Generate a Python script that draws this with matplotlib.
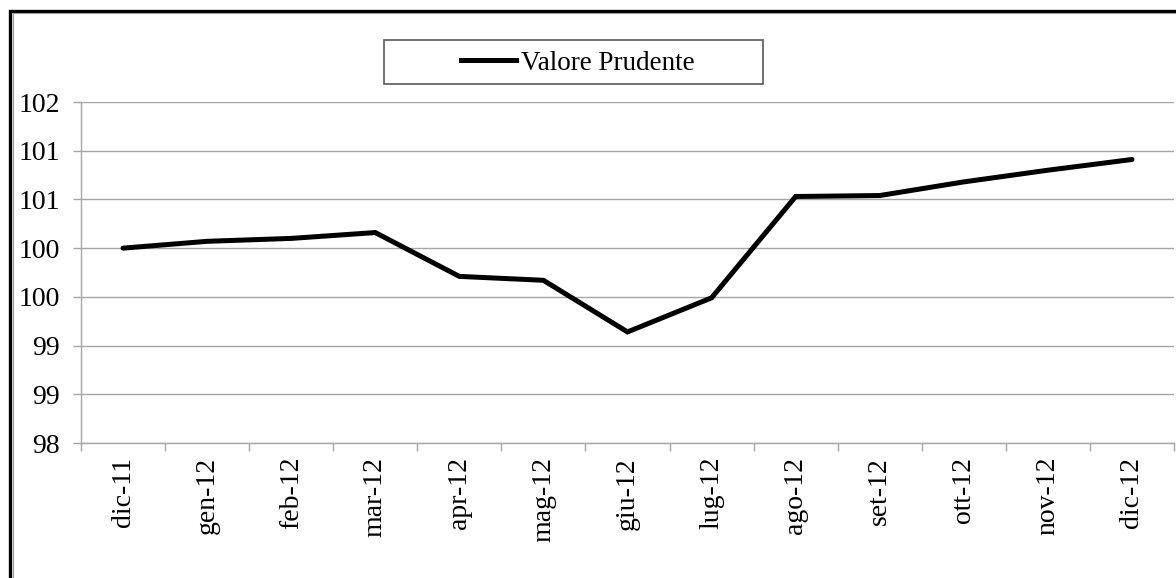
import matplotlib
matplotlib.use("Agg")
import matplotlib.pyplot as plt
from matplotlib.patches import Rectangle
from matplotlib.lines import Line2D

categories = ["dic-11", "gen-12", "feb-12", "mar-12", "apr-12", "mag-12", "giu-12",
              "lug-12", "ago-12", "set-12", "ott-12", "nov-12", "dic-12"]
valore_prudente = [100.00, 100.07, 100.10, 100.16, 99.71, 99.67, 99.14,
                   99.49, 100.53, 100.54, 100.68, 100.80, 100.91]
series_name = "Valore Prudente"
yticks = [98.0, 98.5, 99.0, 99.5, 100.0, 100.5, 101.0, 101.5]
ytick_labels = ["98", "99", "99", "100", "100", "101", "101", "102"]

W, H = 1176, 578
fig = plt.figure(figsize=(W / 100, H / 100), dpi=100)
plt.rcParams['font.family'] = ['Liberation Serif', 'DejaVu Serif']

ax = fig.add_axes([81 / W, 1 - 443 / H, (1174 - 81) / W, (443 - 102) / H])

x = list(range(len(categories)))
ax.plot(x, valore_prudente, color="black", lw=3.6, solid_joinstyle="miter",
        solid_capstyle="round", zorder=3)

ax.set_xlim(-0.5, len(categories) - 0.5)
ax.set_ylim(98.0, 101.5)
ax.set_yticks(yticks)
ax.set_yticklabels(ytick_labels)
ax.set_xticks(x)
ax.set_xticklabels(categories, rotation=90)
ax.set_xticks([i - 0.5 for i in range(len(categories) + 1)], minor=True)

grid_c = "#a6a6a6"
ax.grid(axis="y", color=grid_c, lw=1.0, zorder=1)
for s in ["top", "right"]:
    ax.spines[s].set_visible(False)
for s in ["left", "bottom"]:
    ax.spines[s].set_color(grid_c)
    ax.spines[s].set_linewidth(1.0)

ax.tick_params(axis="x", which="major", length=0, pad=10, labelsize=20)
ax.tick_params(axis="x", which="minor", length=6, width=1.0, color=grid_c, direction="out")
ax.tick_params(axis="y", length=6, width=1.0, color=grid_c, direction="out", pad=9, labelsize=20)

# legend box
fig.patches.append(Rectangle((384 / W, 1 - 84 / H), (763 - 384) / W, (84 - 40) / H,
                             transform=fig.transFigure, fill=False, edgecolor="#595959",
                             lw=1.2, zorder=5))
fig.legend([Line2D([0], [0], color="black", lw=3.6)], [series_name],
           loc="center", bbox_to_anchor=(578 / W, 1 - 63 / H), frameon=False,
           fontsize=19.5, handlelength=2.0, handletextpad=0.2)

# outer border
fig.patches.append(Rectangle((10 / W, -0.1), 1.2, 1.1 - 11 / H, transform=fig.transFigure,
                             fill=False, edgecolor="black", lw=2.4, zorder=10))
fig.patches.append(Rectangle((12.5 / W, -0.1), 1.2, 1.1 - 13.5 / H, transform=fig.transFigure,
                             fill=False, edgecolor="#9a9a9a", lw=0.8, zorder=10))

fig.savefig("out.png", dpi=100)
